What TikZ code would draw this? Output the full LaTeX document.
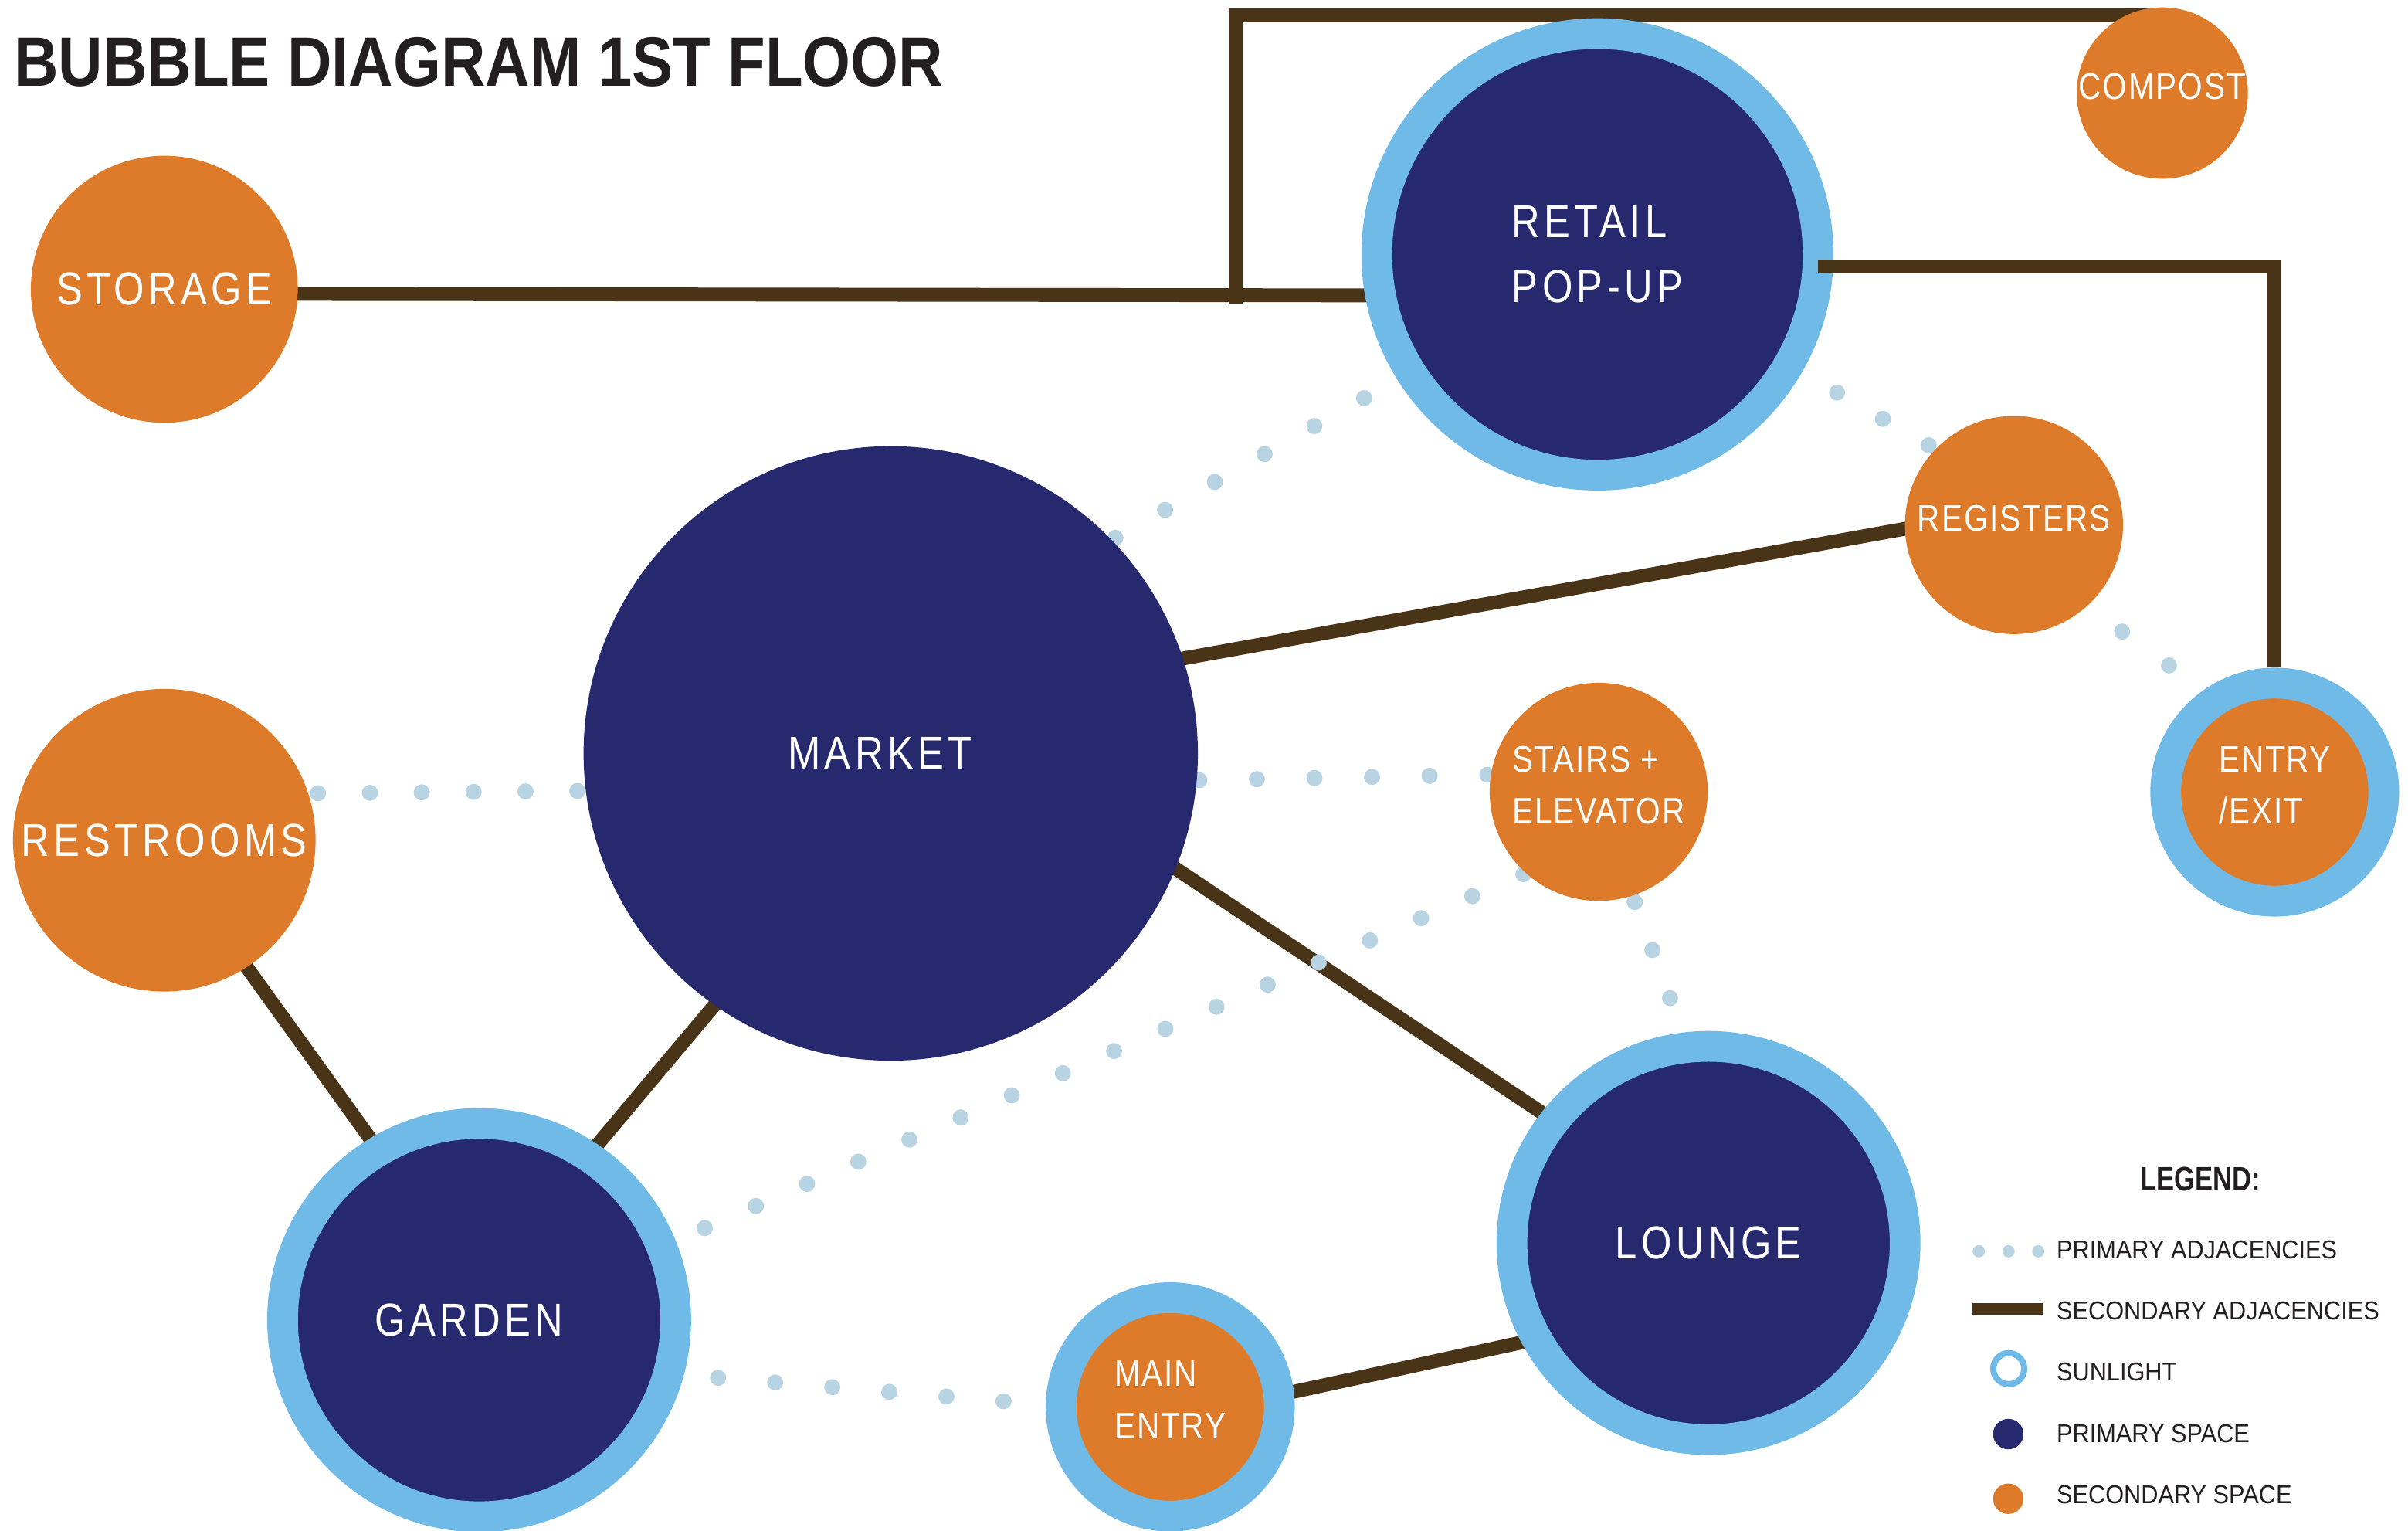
\documentclass[tikz,border=0pt]{standalone}
\usepackage{fontspec}
\setmainfont{Liberation Sans}
\newfontfamily\titlefont[FakeStretch=0.88]{Liberation Sans}
\newfontfamily\bigfont[FakeStretch=0.85,LetterSpace=9]{Liberation Sans}
\newfontfamily\smallfont[FakeStretch=0.85,LetterSpace=4]{Liberation Sans}
\newfontfamily\keyfont[FakeStretch=0.92]{Liberation Sans}
\newfontfamily\keyheadfont[FakeStretch=0.79]{Liberation Sans}
\usetikzlibrary{backgrounds}

\definecolor{navy}{HTML}{26296E}
\definecolor{sun}{HTML}{6FBAE6}
\definecolor{clay}{HTML}{DE7B2A}
\definecolor{wood}{HTML}{4A3417}
\definecolor{mist}{HTML}{B8D3E1}
\definecolor{ink}{HTML}{231F20}

\tikzset{
  space/.style={circle, inner sep=0pt, text=white},
  primary/.style={space, fill=navy},
  secondary/.style={space, fill=clay},
  sunlit/.style={draw=sun, line width=20pt},
  big/.style={font=\bigfont\fontsize{30}{42}\selectfont},
  small/.style={font=\smallfont\fontsize{24}{34}\selectfont,
    execute at end node={\rule[-9pt]{0pt}{0pt}}},
  link/.style={draw=wood, line width=9pt, shorten <=-5pt, shorten >=-5pt},
  adj/.style={draw=mist, line width=10.5pt, line cap=round,
    dash pattern=on 0pt off #1pt},
  keytext/.style={anchor=base west, inner sep=0pt, text=ink,
    font=\keyfont\fontsize{16.8}{20}\selectfont},
}

\begin{document}
\begin{tikzpicture}[x=1pt, y=-1pt]
  \useasboundingbox (0,0) rectangle (1568,996.7);

  \node [anchor=base west, inner sep=0pt, text=ink,
    font=\titlefont\bfseries\fontsize{45.5}{50}\selectfont]
    at (9,56) (title) {BUBBLE DIAGRAM 1ST FLOOR};

  % spaces
  \node [secondary, big, minimum size=173.8pt] at (107,188.3) (storage) {STORAGE};
  \node [secondary, small, minimum size=111pt] at (1408,60.6) (compost) {COMPOST};
  \node [primary, sunlit, big, minimum size=287.4pt, align=left] at (1040.2,165.6) (retail) {RETAIL\\POP-UP};
  \node [secondary, small, minimum size=142pt] at (1311.4,341.8) (registers) {REGISTERS};
  \node [primary, big, minimum size=400pt] at (580,490.5) (market) {MARKET\rule{14pt}{0pt}};
  \node [secondary, big, minimum size=197pt] at (107,547) (restrooms) {RESTROOMS};
  \node [secondary, small, minimum size=142pt, align=left] at (1041,515.5) (stairs) {STAIRS +\\ELEVATOR};
  \node [secondary, sunlit, small, minimum size=142pt, align=left] at (1481.2,515.7) (entry) {ENTRY\\/EXIT};
  \node [primary, sunlit, big, minimum size=256pt] at (312,859.4) (garden) {GARDEN\rule{13pt}{0pt}};
  \node [primary, sunlit, big, minimum size=256pt] at (1112.5,809.2) (lounge) {LOUNGE};
  \node [secondary, sunlit, small, minimum size=142.2pt, align=left] at (762,915.9) (mainentry) {MAIN\\ENTRY};

  \begin{scope}[on background layer]
    % secondary adjacencies
    \coordinate (tee) at (804.4,192.6);
    \draw [link] (storage.-2.8) -- (retail.190.1);
    \draw [link, shorten >=-16pt] (tee) |- (compost.115);
    \draw [link] (market.18.8) -- (registers.182.7);
    \draw [link] (market.-22.7) -- (lounge.142.6);
    \draw [link] (market.235.9) -- (garden.56);
    \draw [link] (restrooms.303.4) -- (garden.121);
    \draw [link] (mainentry.7.2) -- (lounge.208.7);
    % primary adjacencies
    \draw [adj=33.78, shorten <=6.2pt, shorten >=4.6pt] (restrooms.18.6) -- (market.187.2);
    \draw [adj=37.5, shorten <=1.5pt, shorten >=0.7pt] (market.355.96) -- (stairs.171.2);
    \draw [adj=37.15, shorten <=2.6pt, shorten >=24pt] (market.44.5) -- (retail.212.4);
    \draw [adj=34.4, shorten <=26.4pt, shorten >=3.9pt] (retail.330.4) -- (registers.136.1);
    \draw [adj=37.6, shorten <=28.1pt, shorten >=26pt] (registers.312.9) -- (entry.125.4);
    \draw [adj=36.3, shorten <=20.65pt, shorten >=-1pt] (garden.22) -- (stairs.228.3);
    \draw [adj=33.3, shorten <=4.3pt, shorten >=22.5pt] (stairs.288.1) -- (lounge.97);
    \draw [adj=37.3, shorten <=22.35pt, shorten >=25.9pt] (garden.345.2) -- (mainentry.179.5);
  \end{scope}
  \draw [link, shorten <=-10pt, shorten >=0pt] (retail.-3.5) -| (entry.north);

  % legend
  \node [anchor=base, inner sep=0pt, text=ink,
    font=\keyheadfont\bfseries\fontsize{22}{26}\selectfont]
    at (1433,775.1) (legend) {LEGEND:};
  \node [keytext] at (1339,819.2) (keyprimary) {PRIMARY ADJACENCIES};
  \node [keytext] at (1339,859) (keysecondary) {SECONDARY ADJACENCIES};
  \node [keytext] at (1339,899) (keysun) {SUNLIGHT};
  \node [keytext] at (1339,939) (keyprimspace) {PRIMARY SPACE};
  \node [keytext] at (1339,979) (keysecspace) {SECONDARY SPACE};
  \draw [adj=19.35, line width=8pt] (1288.5,814.6) -- (1328.5,814.6);
  \draw [wood, line width=7.5pt] (1284.4,852.2) -- (1330,852.2);
  \draw [sun, line width=4pt] (1308,891) circle (10.1);
  \fill [navy] (1307.7,933.6) circle (9.9);
  \fill [clay] (1307.7,975.7) circle (9.9);
\end{tikzpicture}
\end{document}
